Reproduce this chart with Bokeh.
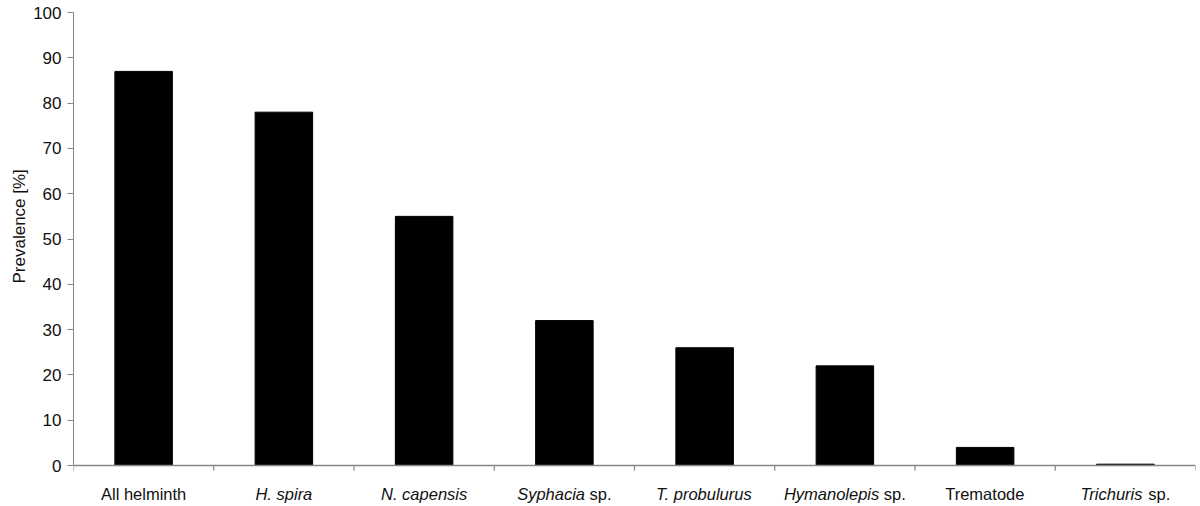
from bokeh.plotting import figure
from bokeh.models import Range1d, FixedTicker, ColumnDataSource, Title
from bokeh.core.properties import value
from bokeh.embed import file_html
from bokeh.resources import INLINE

categories = ["All helminth", "H. spira", "N. capensis", "Syphacia sp.",
              "T. probulurus", "Hymanolepis sp.", "Trematode", "Trichuris sp."]
italic_parts = ["", "H. spira", "N. capensis", "Syphacia",
                "T. probulurus", "Hymanolepis", "", "Trichuris"]
prevalence = [87, 78, 55, 32, 26, 22, 4, 0.3]
y_ticks = list(range(0, 101, 10))

FONT = "Liberation Sans"
FS = 16.5
GRAY = "#878787"
TXT = "#111111"

# Arial / Liberation Sans advance widths (per 1000 em)
W = {' ': 278, '.': 278, 'A': 667, 'H': 722, 'N': 722, 'S': 667, 'T': 611,
     'a': 556, 'b': 556, 'c': 500, 'd': 556, 'e': 556, 'h': 556, 'i': 222,
     'l': 222, 'm': 833, 'n': 556, 'o': 556, 'p': 556, 'r': 333, 's': 500,
     't': 278, 'u': 556, 'y': 500}


def tw(s):
    return sum(W.get(ch, 556) for ch in s) * FS / 1000.0


n = len(categories)
xs = [i + 0.5 for i in range(n)]
src = ColumnDataSource(dict(x=xs, top=prevalence, cat=categories))

Y_MIN = -8.6
p = figure(width=1200, height=506, output_backend="svg", toolbar_location=None,
           x_range=Range1d(0, n), y_range=Range1d(Y_MIN, 100),
           min_border_left=73, min_border_right=5, min_border_top=12,
           min_border_bottom=2)
p.outline_line_color = None
p.xgrid.grid_line_color = None
p.ygrid.grid_line_color = None
p.background_fill_color = "white"
p.border_fill_color = "white"
p.xaxis.visible = False

p.vbar(x="x", top="top", bottom=0, width=0.41, source=src,
       fill_color="black", line_color="black")

# y axis (limited to 0..100)
ya = p.yaxis[0]
ya.bounds = (0, 100)
ya.ticker = FixedTicker(ticks=y_ticks)
ya.axis_line_color = GRAY
ya.major_tick_line_color = GRAY
ya.major_tick_out = 6
ya.major_tick_in = 0
ya.minor_tick_line_color = None
ya.major_label_text_font = FONT
ya.major_label_text_font_size = "17px"
ya.major_label_text_color = TXT
ya.major_label_standoff = 6

# y axis title, placed along the 0..100 span rather than the whole frame
p.add_layout(Title(text="Prevalence [%]", align="left", offset=221,
                   text_font=FONT, text_font_size="17px",
                   text_font_style="normal", text_color=TXT, standoff=4),
             "left")

# x axis line and category-boundary ticks, drawn at y = 0
bounds_x = list(range(0, n + 1))
p.segment(x0=[0], y0=[0], x1=[n], y1=[0], line_color=GRAY, line_width=1.5)
tick_len = 1.15  # data units (~5 px)
p.segment(x0=bounds_x, y0=[0] * len(bounds_x), x1=bounds_x,
          y1=[-tick_len] * len(bounds_x), line_color=GRAY, line_width=1.2)

# category labels with mixed italic / upright parts
label_y = -6.2
it_x, it_t, it_off = [], [], []
no_x, no_t, no_off = [], [], []
for i, (cat, it) in enumerate(zip(categories, italic_parts)):
    rest = cat[len(it):]
    normal = rest.lstrip()
    lead = rest[:len(rest) - len(normal)]
    total = tw(it) + tw(rest)
    start = -total / 2.0
    if it:
        it_x.append(xs[i]); it_t.append(it); it_off.append(start)
    if normal:
        no_x.append(xs[i]); no_t.append(normal)
        no_off.append(start + tw(it) + tw(lead))

p.text(x=it_x, y=[label_y] * len(it_x), text=it_t, x_offset=it_off,
       text_align="left", text_baseline="middle",
       text_font=value(FONT), text_font_size=f"{FS}px",
       text_font_style="italic", text_color=TXT)
p.text(x=no_x, y=[label_y] * len(no_x), text=no_t, x_offset=no_off,
       text_align="left", text_baseline="middle",
       text_font=value(FONT), text_font_size=f"{FS}px",
       text_font_style="normal", text_color=TXT)

open("out.html", "w").write(file_html(p, INLINE))
